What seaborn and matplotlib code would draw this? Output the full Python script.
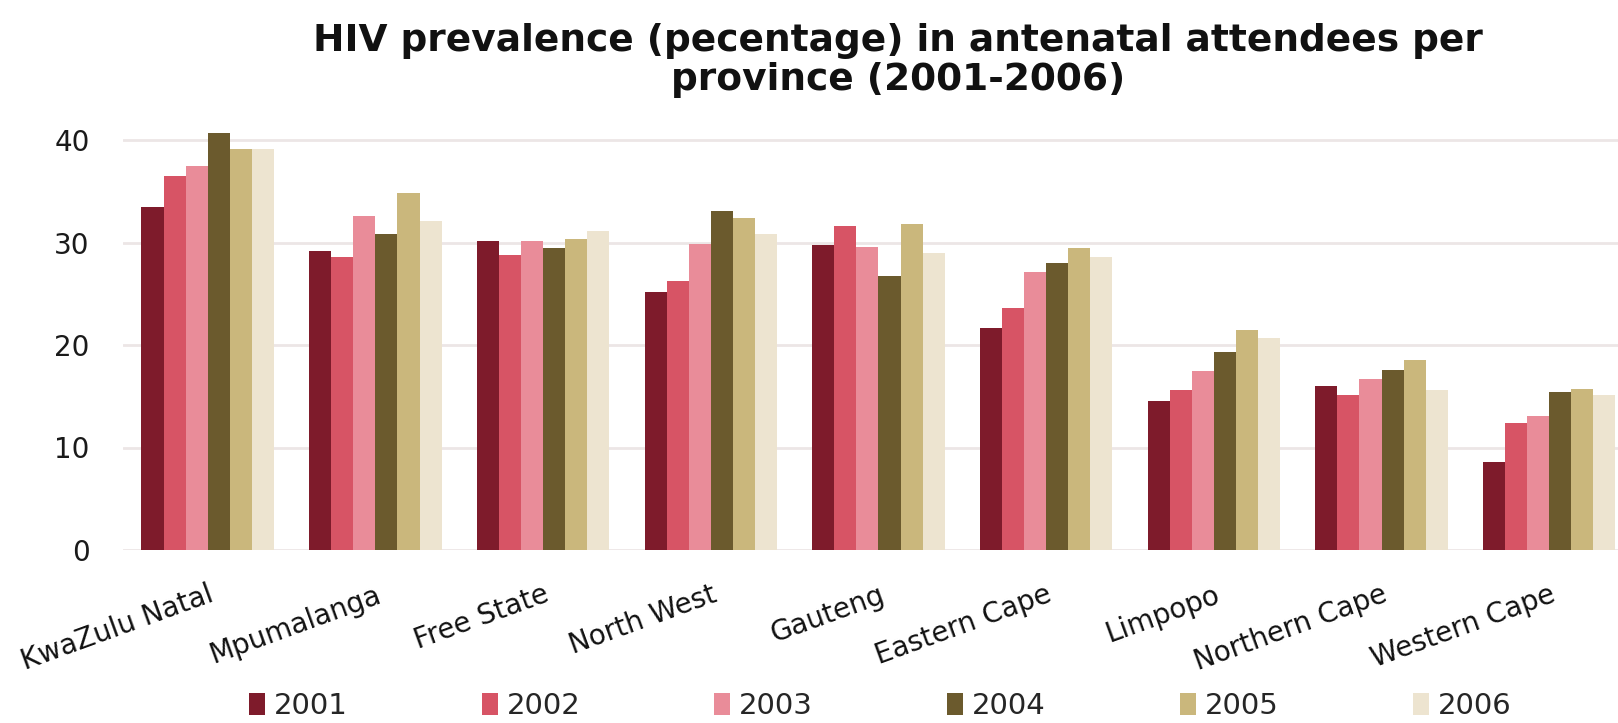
import matplotlib
matplotlib.use("Agg")
import matplotlib.pyplot as plt
import seaborn as sns
import pandas as pd
from matplotlib.patches import Patch

provinces = ["KwaZulu Natal", "Mpumalanga", "Free State", "North West", "Gauteng",
             "Eastern Cape", "Limpopo", "Northern Cape", "Western Cape"]
years = ["2001", "2002", "2003", "2004", "2005", "2006"]

prev_2001 = [33.5, 29.2, 30.1, 25.2, 29.8, 21.7, 14.5, 16.0, 8.6]
prev_2002 = [36.5, 28.6, 28.8, 26.2, 31.6, 23.6, 15.6, 15.1, 12.4]
prev_2003 = [37.5, 32.6, 30.1, 29.9, 29.6, 27.1, 17.5, 16.7, 13.1]
prev_2004 = [40.7, 30.8, 29.5, 33.1, 26.7, 28.0, 19.3, 17.6, 15.4]
prev_2005 = [39.1, 34.8, 30.3, 32.4, 31.8, 29.5, 21.5, 18.5, 15.7]
prev_2006 = [39.1, 32.1, 31.1, 30.8, 29.0, 28.6, 20.7, 15.6, 15.1]

colors = ["#7e1b2b", "#d75465", "#e98c99", "#6b5a2d", "#cab77c", "#ede4d0"]

series = [prev_2001, prev_2002, prev_2003, prev_2004, prev_2005, prev_2006]
df = pd.DataFrame(
    [(p, y, v) for y, vals in zip(years, series) for p, v in zip(provinces, vals)],
    columns=["province", "year", "value"],
)

sns.set_theme(style="white")
plt.rcParams["font.family"] = ["DejaVu Sans"]

fig = plt.figure(figsize=(16.18, 7.23), dpi=100)
ax = fig.add_axes([123 / 1618, 1 - 550 / 723, 1 - 123 / 1618, (550 - 119.5) / 723])

sns.barplot(data=df, x="province", y="value", hue="year", order=provinces,
            hue_order=years, palette=colors, width=0.79, gap=0,
            saturation=1, linewidth=0, ax=ax, legend=False)

ax.set_xlim(-0.505, 8.41)
ax.set_ylim(0, 42)
ax.set_yticks([0, 10, 20, 30, 40])
ax.yaxis.grid(True, color="#ece6e6", linewidth=2)
ax.set_axisbelow(True)
for s in ax.spines.values():
    s.set_visible(False)
ax.set_xlabel("")
ax.set_ylabel("")
ax.tick_params(axis="y", labelsize=20, colors="#1a1a1a", pad=24, length=0)
ax.tick_params(axis="x", length=0, pad=22)
ax.set_xticks(range(len(provinces)))
ax.set_xticklabels(provinces, rotation=20, ha="right", rotation_mode="anchor",
                   fontsize=20, color="#111111")
for lbl in ax.get_xticklabels():
    lbl.set_x(lbl.get_position()[0])
ax.xaxis.set_tick_params(which="major")

fig.text(898 / 1618, 1 - 41 / 723, "HIV prevalence (pecentage) in antenatal attendees per",
         ha="center", va="center", fontsize=27, fontweight="bold", color="#111111")
fig.text(898 / 1618, 1 - 80 / 723, "province (2001-2006)",
         ha="center", va="center", fontsize=27, fontweight="bold", color="#111111")

handles = [Patch(facecolor=c, edgecolor="none") for c in colors]
fig.legend(handles, years, loc="center", ncol=6, bbox_to_anchor=(880 / 1618, 1 - 706 / 723),
           frameon=False, fontsize=21, handlelength=0.55, handleheight=0.75,
           handletextpad=0.3, columnspacing=4.6, borderpad=0.2)

fig.savefig("out.png", dpi=100, facecolor="white")
